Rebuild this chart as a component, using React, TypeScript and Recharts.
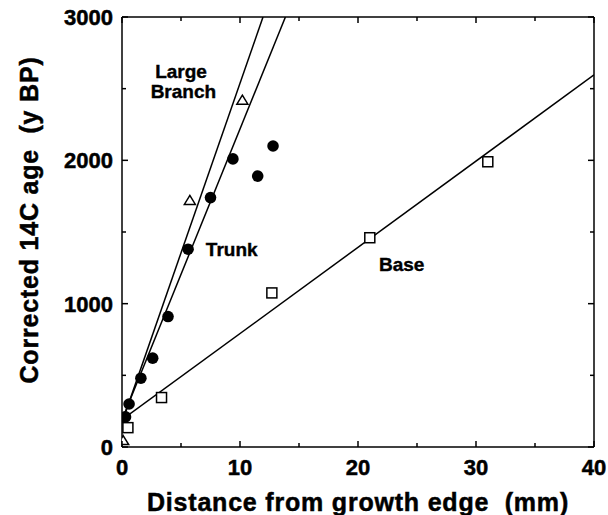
import { ScatterChart, Scatter, XAxis, YAxis, ReferenceDot, Label } from 'recharts';

// measured points (distance mm, corrected 14C age y BP)
const branchX = [0.1, 5.75, 10.2];
const branchY = [45, 1720, 2420];

const trunkX = [0.3, 0.6, 1.6, 2.6, 3.9, 5.6, 7.5, 9.4, 11.5, 12.8];
const trunkY = [210, 300, 480, 620, 910, 1380, 1740, 2010, 1890, 2100];

const baseX = [0.5, 3.35, 12.7, 21, 31];
const baseY = [135, 345, 1075, 1460, 1990];

// fitted lines, two end points each
const branchFitX = [0, 11.95];
const branchFitY = [170, 3000];
const trunkFitX = [0, 13.85];
const trunkFitY = [190, 3000];
const baseFitX = [0, 40];
const baseFitY = [190, 2596];

const xTicks = [0, 5, 10, 15, 20, 25, 30, 35, 40];
const yTicks = [0, 500, 1000, 1500, 2000, 2500, 3000];

const zip = (xs: number[], ys: number[]) => xs.map((x, i) => ({ x, y: ys[i] }));

const FONT = '"Liberation Sans", Arial, Helvetica, sans-serif';

const BottomTick = (props: any) => {
  const { x, y, payload } = props;
  const major = payload.value % 10 === 0;
  return (
    <g>
      <line x1={x} x2={x} y1={y} y2={y - (major ? 6 : 4)} stroke="#000" strokeWidth={1.5} />
      {major && (
        <text x={x} y={y + 28} textAnchor="middle" fontFamily={FONT} fontWeight="bold" fontSize={22} fill="#000" stroke="#000" strokeWidth={0.5}>
          {payload.value}
        </text>
      )}
    </g>
  );
};

const TopTick = (props: any) => {
  const { x, y, payload } = props;
  const major = payload.value % 10 === 0;
  return <line x1={x} x2={x} y1={y} y2={y + (major ? 6 : 4)} stroke="#000" strokeWidth={1.5} />;
};

const LeftTick = (props: any) => {
  const { x, y, payload } = props;
  const major = payload.value % 1000 === 0;
  return (
    <g>
      <line x1={x} x2={x + (major ? 6 : 4)} y1={y} y2={y} stroke="#000" strokeWidth={1.5} />
      {major && (
        <text x={x - 9} y={y + 8} textAnchor="end" fontFamily={FONT} fontWeight="bold" fontSize={22} fill="#000" stroke="#000" strokeWidth={0.5}>
          {payload.value}
        </text>
      )}
    </g>
  );
};

const RightTick = (props: any) => {
  const { x, y, payload } = props;
  const major = payload.value % 1000 === 0;
  return <line x1={x} x2={x - (major ? 6 : 4)} y1={y} y2={y} stroke="#000" strokeWidth={1.5} />;
};

const Triangle = (props: any) => {
  const { cx, cy } = props;
  return (
    <polygon
      points={`${cx},${cy - 5} ${cx + 5.5},${cy + 4} ${cx - 5.5},${cy + 4}`}
      fill="#fff"
      stroke="#000"
      strokeWidth={1.5}
    />
  );
};

const Square = (props: any) => {
  const { cx, cy } = props;
  return <rect x={cx - 5} y={cy - 5} width={10} height={10} fill="#fff" stroke="#000" strokeWidth={1.5} />;
};

const Dot = (props: any) => {
  const { cx, cy } = props;
  return <circle cx={cx} cy={cy} r={5.8} fill="#000" />;
};

const Nothing = () => <g />;

const tagStyle = { fontFamily: FONT, fontWeight: 'bold' as const, fontSize: 19, fill: '#000', stroke: '#000', strokeWidth: 0.4 };

const App = () => (
  <div style={{ position: 'absolute', left: 0, top: 0 }}>
    <ScatterChart width={608} height={515} margin={{ top: 7, right: 4, bottom: 8, left: 52 }}>
      <XAxis
        type="number"
        dataKey="x"
        domain={[0, 40]}
        ticks={xTicks}
        interval={0}
        tickSize={0}
        tickMargin={0}
        tick={<BottomTick />}
        height={60}
        stroke="#000"
        strokeWidth={1.5}
        allowDataOverflow
      >
        <Label
          content={() => (
            <text
              x={358}
              y={511}
              textAnchor="middle"
              fontFamily={FONT}
              fontWeight="bold"
              fontSize={25}
              letterSpacing={0.8}
              fill="#000"
              stroke="#000"
              strokeWidth={0.5}
            >
              {'Distance from growth edge\u00a0 (mm)'}
            </text>
          )}
        />
      </XAxis>
      <XAxis
        xAxisId="top"
        orientation="top"
        type="number"
        dataKey="x"
        domain={[0, 40]}
        ticks={xTicks}
        interval={0}
        tickSize={0}
        tickMargin={0}
        tick={<TopTick />}
        height={10}
        stroke="#000"
        strokeWidth={1.5}
        allowDataOverflow
      />
      <YAxis
        type="number"
        dataKey="y"
        domain={[0, 3000]}
        ticks={yTicks}
        interval={0}
        tickSize={0}
        tickMargin={0}
        tick={<LeftTick />}
        width={70}
        stroke="#000"
        strokeWidth={1.5}
        allowDataOverflow
      >
        <Label
          content={() => (
            <text
              x={0}
              y={0}
              transform="translate(38, 220) rotate(-90)"
              textAnchor="middle"
              fontFamily={FONT}
              fontWeight="bold"
              fontSize={25}
              letterSpacing={0.8}
              fill="#000"
              stroke="#000"
              strokeWidth={0.5}
            >
              {'Corrected 14C age\u00a0 (y BP)'}
            </text>
          )}
        />
      </YAxis>
      <YAxis
        yAxisId="right"
        orientation="right"
        type="number"
        dataKey="y"
        domain={[0, 3000]}
        ticks={yTicks}
        interval={0}
        tickSize={0}
        tickMargin={0}
        tick={<RightTick />}
        width={10}
        stroke="#000"
        strokeWidth={1.5}
        allowDataOverflow
      />

      <Scatter data={zip(branchFitX, branchFitY)} line={{ stroke: '#000', strokeWidth: 1.5 }} shape={<Nothing />} isAnimationActive={false} />
      <Scatter data={zip(trunkFitX, trunkFitY)} line={{ stroke: '#000', strokeWidth: 1.5 }} shape={<Nothing />} isAnimationActive={false} />
      <Scatter data={zip(baseFitX, baseFitY)} line={{ stroke: '#000', strokeWidth: 1.5 }} shape={<Nothing />} isAnimationActive={false} />

      <Scatter data={zip(baseX, baseY)} shape={<Square />} isAnimationActive={false} />
      <Scatter data={zip(trunkX, trunkY)} shape={<Dot />} isAnimationActive={false} />
      <Scatter data={zip(branchX, branchY)} shape={<Triangle />} isAnimationActive={false} />

      <ReferenceDot x={5.0} y={2620} r={0} stroke="none" label={{ value: 'Large', position: 'center', ...tagStyle }} />
      <ReferenceDot x={5.2} y={2485} r={0} stroke="none" label={{ value: 'Branch', position: 'center', ...tagStyle }} />
      <ReferenceDot x={9.3} y={1380} r={0} stroke="none" label={{ value: 'Trunk', position: 'center', ...tagStyle }} />
      <ReferenceDot x={23.7} y={1277} r={0} stroke="none" label={{ value: 'Base', position: 'center', ...tagStyle }} />
    </ScatterChart>
  </div>
);

export default App;
